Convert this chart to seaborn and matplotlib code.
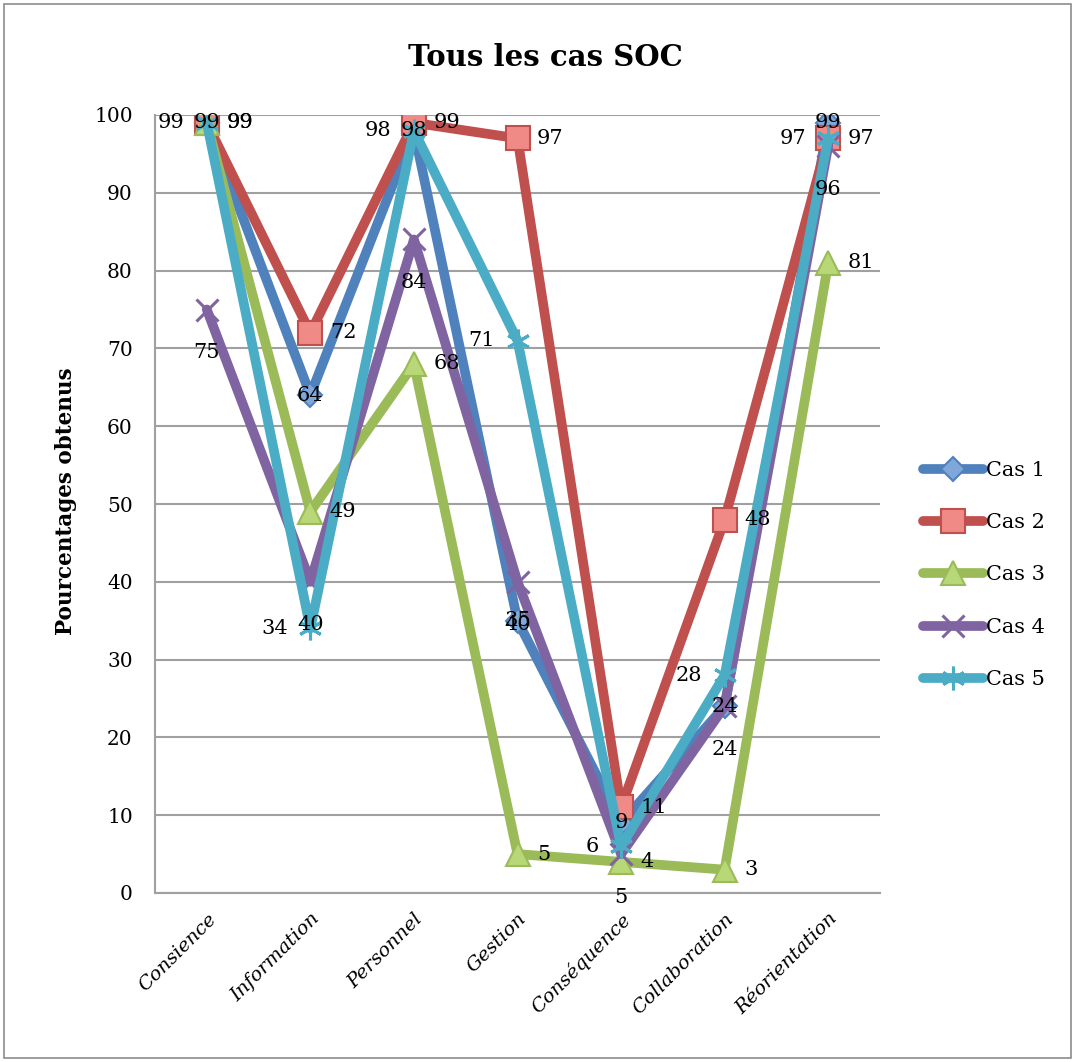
import matplotlib
matplotlib.use("Agg")
import matplotlib.pyplot as plt
import seaborn as sns
import pandas as pd
from matplotlib.patches import Rectangle

categories = ["Consience", "Information", "Personnel", "Gestion",
              "Conséquence", "Collaboration", "Réorientation"]
series_names = ["Cas 1", "Cas 2", "Cas 3", "Cas 4", "Cas 5"]
cas1 = [99, 64, 98, 35, 9, 24, 99]
cas2 = [99, 72, 99, 97, 11, 48, 97]
cas3 = [99, 49, 68, 5, 4, 3, 81]
cas4 = [75, 40, 84, 40, 5, 24, 96]
cas5 = [99, 34, 98, 71, 6, 28, 97]
y_ticks = [0, 10, 20, 30, 40, 50, 60, 70, 80, 90, 100]

values = [cas1, cas2, cas3, cas4, cas5]
colors = ["#4F81BD", "#C0504D", "#9BBB59", "#8064A2", "#4BACC6"]
faces = ["#7FA7DA", "#F08A86", "#B8D878", "#8064A2", "#4BACC6"]
markers = ["D", "s", "^", "x", (6, 2, 0)]
msizes = [12, 17, 17, 16, 17]
# label placement per series: (dx points, dy points, ha)
placements = [(0, 0, "center"), (14, 0, "left"), (14, 0, "left"),
              (0, -31, "center"), (-16, 0, "right")]

sns.set_theme(style="white")
serif = ["DejaVu Serif"]
plt.rcParams["font.family"] = serif
plt.rcParams["text.color"] = "black"
plt.rcParams["xtick.color"] = "black"
plt.rcParams["ytick.color"] = "black"
plt.rcParams["axes.labelcolor"] = "black"

fig = plt.figure(figsize=(10.75, 10.62), dpi=100)
ax = fig.add_axes([155 / 1075, 1 - 893 / 1062, (880 - 155) / 1075, (893 - 115) / 1062])

df = pd.DataFrame({"cat": categories * len(series_names),
                   "x": list(range(len(categories))) * len(series_names),
                   "val": [v for s in values for v in s],
                   "series": [n for n in series_names for _ in categories]})

for i, name in enumerate(series_names):
    sub = df[df["series"] == name]
    sns.lineplot(data=sub, x="x", y="val", ax=ax, color=colors[i], lw=7,
                 marker=markers[i], markersize=msizes[i],
                 markerfacecolor=faces[i], markeredgecolor=colors[i],
                 markeredgewidth=1.5 if i < 3 else 2.2,
                 label=name, solid_capstyle="round", solid_joinstyle="round",
                 zorder=3 + i)

for i, name in enumerate(series_names):
    dx, dy, ha = placements[i]
    for xi, v in enumerate(values[i]):
        ax.annotate(str(v), (xi, v), xytext=(dx, dy), textcoords="offset points",
                    ha=ha, va="center", fontsize=15, color="black", zorder=20)

ax.set_xlim(-0.5, len(categories) - 0.5)
ax.set_ylim(0, 100)
ax.set_yticks(y_ticks)
ax.set_xticks(range(len(categories)))
ax.set_xticklabels(categories, rotation=45, ha="right", rotation_mode="anchor",
                   fontstyle="italic", fontsize=14)
ax.tick_params(axis="y", labelsize=14.5, length=0, pad=16)
ax.tick_params(axis="x", length=0, pad=12)
ax.grid(axis="y", color="#A0A0A0", lw=1.5)
ax.set_axisbelow(True)
for s in ["top", "right"]:
    ax.spines[s].set_visible(False)
for s in ["left", "bottom"]:
    ax.spines[s].set_color("#A0A0A0")
    ax.spines[s].set_linewidth(1.5)
ax.set_xlabel("")
ax.set_ylabel("Pourcentages obtenus", fontsize=15.5, fontweight="bold")
ax.yaxis.set_label_coords(-0.108, 0.503)

fig.text(545 / 1075, 1 - 57 / 1062, "Tous les cas SOC", ha="center", va="center",
         fontsize=21, fontweight="bold")

leg = ax.legend(loc="center left", bbox_to_anchor=(904 / 1075, 1 - 575 / 1062),
                bbox_transform=fig.transFigure, frameon=False, fontsize=15,
                handlelength=2.9, handletextpad=0.15, labelspacing=1.6)

fig.patches.append(Rectangle((0.004, 0.004), 0.992, 0.992, transform=fig.transFigure,
                             fill=False, edgecolor="#8C8C8C", lw=1.2))

fig.savefig("out.png", dpi=100, facecolor="white")
